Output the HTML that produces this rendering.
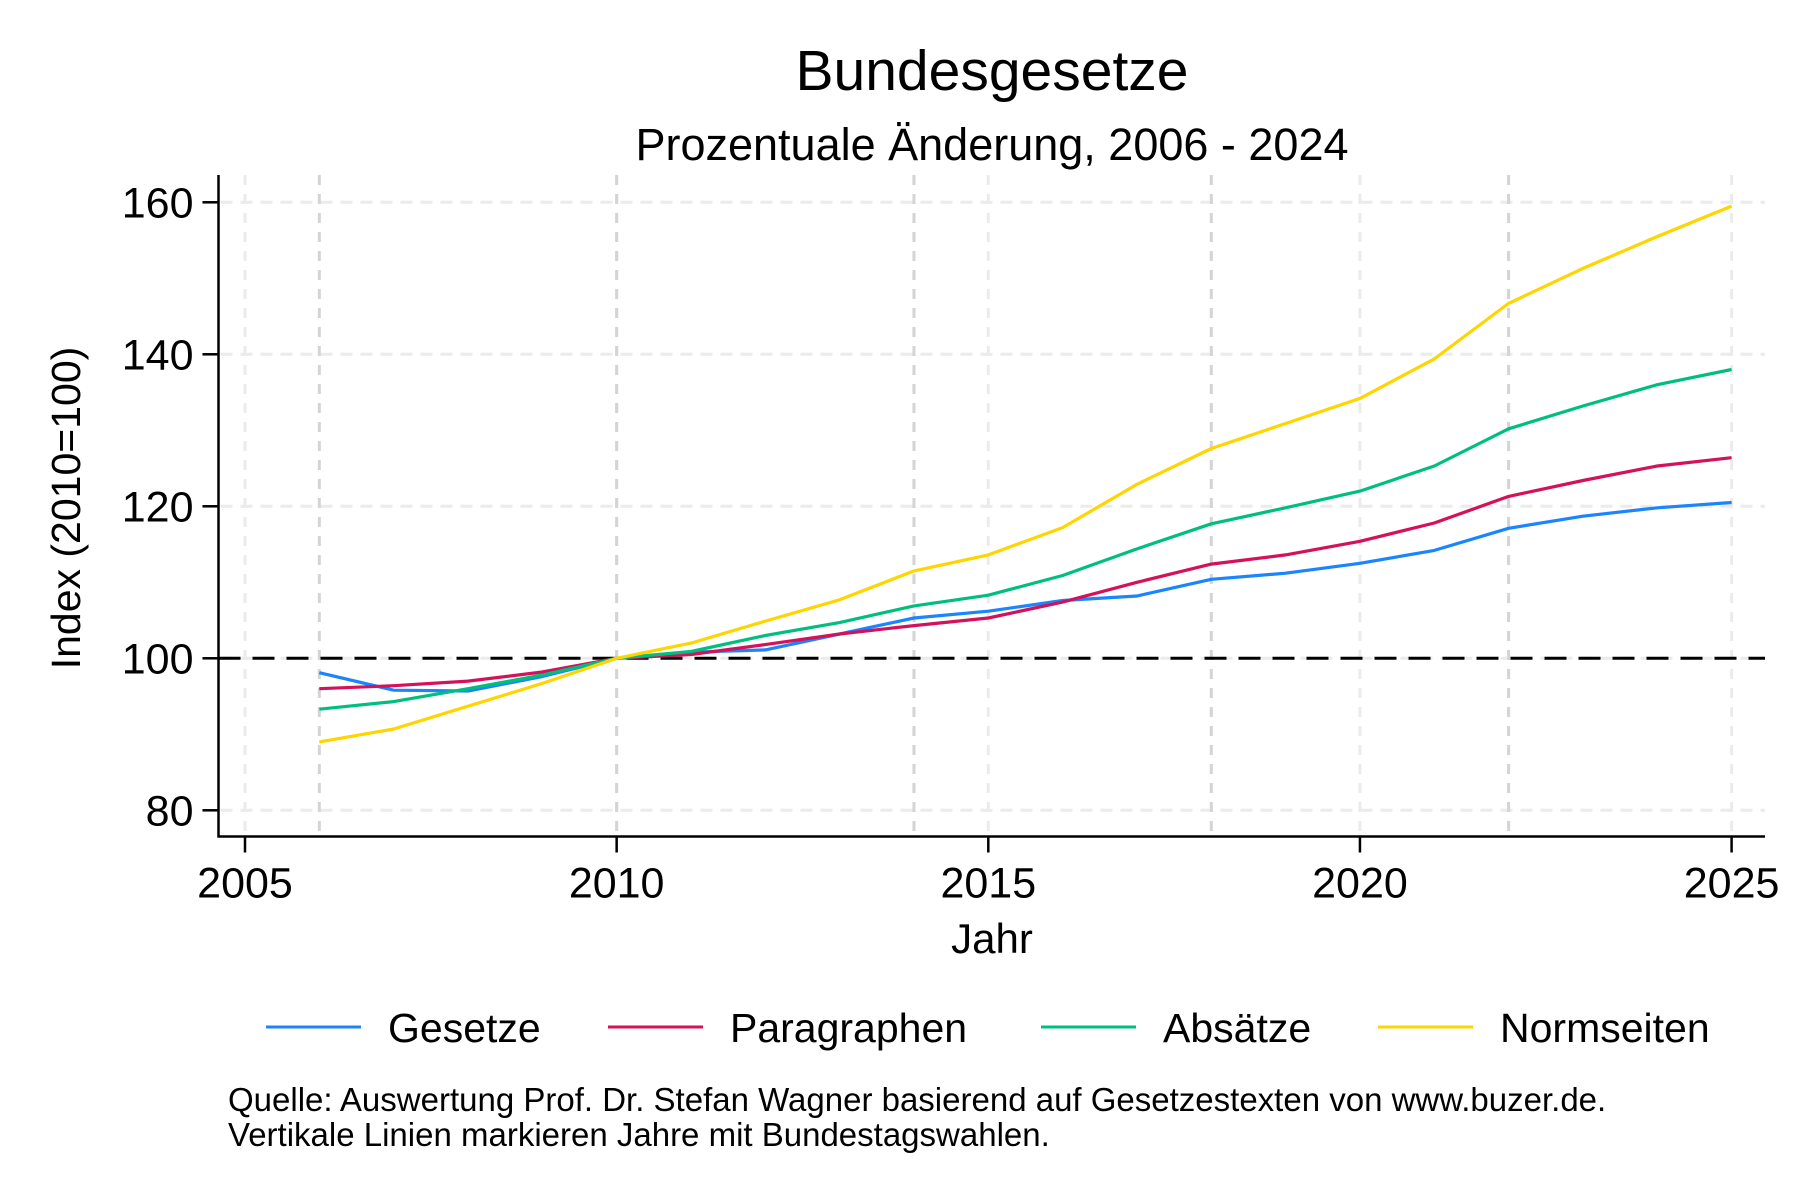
<!DOCTYPE html>
<html><head><meta charset="utf-8"><style>
html,body{margin:0;padding:0;background:#fff;}
svg{display:block;font-family:"Liberation Sans",Arial,sans-serif;}
</style></head><body>
<svg id="chart" width="1800" height="1200" viewBox="0 0 1800 1200" xmlns="http://www.w3.org/2000/svg">
<rect width="1800" height="1200" fill="#fff"/>
<text x="992" y="90" font-size="57" text-anchor="middle">Bundesgesetze</text>
<text x="992" y="160" font-size="45" text-anchor="middle">Prozentuale Änderung, 2006 - 2024</text>
<g id="grid"></g>
<g id="axes"></g>
<g id="series"></g>
<text x="992" y="953" font-size="42" text-anchor="middle">Jahr</text>
<text transform="translate(80,508) rotate(-90)" font-size="41" text-anchor="middle">Index (2010=100)</text>
<g id="legend"></g>
<text x="228" y="1111" font-size="33">Quelle: Auswertung Prof. Dr. Stefan Wagner basierend auf Gesetzestexten von www.buzer.de.</text>
<text x="228" y="1146" font-size="33">Vertikale Linien markieren Jahre mit Bundestagswahlen.</text>
</svg>
<script>
const years = [2006,2007,2008,2009,2010,2011,2012,2013,2014,2015,2016,2017,2018,2019,2020,2021,2022,2023,2024,2025];
const gesetze = [98.1,95.8,95.7,97.6,100,100.8,101.1,103.2,105.3,106.2,107.6,108.2,110.4,111.2,112.5,114.2,117.1,118.7,119.8,120.5];
const paragraphen = [96.0,96.4,97.0,98.2,100,100.5,101.8,103.2,104.3,105.3,107.4,110.0,112.4,113.6,115.4,117.8,121.3,123.4,125.3,126.4];
const absaetze = [93.3,94.3,96.0,97.8,100,100.9,103.0,104.7,106.9,108.3,110.9,114.4,117.7,119.8,122.0,125.3,130.2,133.2,136.0,138.0];
const normseiten = [89.0,90.7,93.7,96.7,100,102.0,104.9,107.7,111.5,113.6,117.2,122.9,127.6,130.9,134.2,139.4,146.7,151.3,155.5,159.5];
const xTicks = [2005,2010,2015,2020,2025];
const yTicks = [80,100,120,140,160];
const electionYears = [2006,2010,2014,2018,2022];
const seriesNames = ["Gesetze","Paragraphen","Absätze","Normseiten"];
const seriesColors = ["#1a85ff","#d41159","#00bf7d","#ffd500"];

const NS = "http://www.w3.org/2000/svg";
const X0 = 245, PX_PER_YEAR = 74.33;
const Y100 = 658.3, PX_PER_UNIT = 7.6;
function xs(y){ return X0 + (y - 2005) * PX_PER_YEAR; }
function ys(v){ return Y100 - (v - 100) * PX_PER_UNIT; }
const axL = 218.5, axR = 1765, axT = 175, axB = 836.5;
function mk(tag, attrs, parent){ const e = document.createElementNS(NS, tag); for (const k in attrs) e.setAttribute(k, attrs[k]); parent.appendChild(e); return e; }

const grid = document.getElementById('grid');
yTicks.forEach(v => {
  const l = mk('line', {x1: axL+2, x2: axR, y1: ys(v), y2: ys(v), stroke: '#ebebeb', 'stroke-width': 3, 'stroke-dasharray': '12 8'}, grid);
  
  
});
xTicks.forEach(t => {
  const l = mk('line', {x1: xs(t), x2: xs(t), y1: axT, y2: axB, stroke: '#ebebeb', 'stroke-width': 3, 'stroke-dasharray': '10 9'}, grid);
  
  
});
electionYears.forEach(t => {
  const l = mk('line', {x1: xs(t), x2: xs(t), y1: axT, y2: axB, stroke: '#d4d4d4', 'stroke-width': 3, 'stroke-dasharray': '10 9'}, grid);
  
  
});
const ref = mk('line', {x1: axL, x2: axR, y1: ys(100), y2: ys(100), stroke: '#000', 'stroke-width': 3, 'stroke-dasharray': '22 12'}, grid);



const axes = document.getElementById('axes');
const ya = mk('line', {x1: axL, x2: axL, y1: axT, y2: axB+1, stroke: '#000', 'stroke-width': 2.5}, axes);


const xa = mk('line', {x1: axL-1, x2: axR, y1: axB, y2: axB, stroke: '#000', 'stroke-width': 2.5}, axes);


yTicks.forEach(v => {
  const t = mk('line', {x1: axL-16, x2: axL, y1: ys(v), y2: ys(v), stroke: '#000', 'stroke-width': 2.5}, axes);
  
  
  const tx = mk('text', {x: axL-25, y: ys(v)+15, 'font-size': 43, 'text-anchor': 'end'}, axes);
  tx.textContent = v;
  
  
});
xTicks.forEach(v => {
  const t = mk('line', {x1: xs(v), x2: xs(v), y1: axB, y2: axB+16, stroke: '#000', 'stroke-width': 2.5}, axes);
  
  
  const tx = mk('text', {x: xs(v), y: axB+61, 'font-size': 43, 'text-anchor': 'middle'}, axes);
  tx.textContent = v;
  
  
});

const series = document.getElementById('series');
const allData = [gesetze, paragraphen, absaetze, normseiten];
allData.forEach((d, i) => {
  const pts = d.map((v, j) => xs(years[j]).toFixed(1) + ',' + ys(v).toFixed(1)).join(' ');
  const p = mk('polyline', {points: pts, fill: 'none', stroke: seriesColors[i], 'stroke-width': 3.2, 'stroke-linejoin': 'round'}, series);
  
  
});

const legend = document.getElementById('legend');
const legX = [266, 608, 1041, 1378];
seriesNames.forEach((n, i) => {
  const g = mk('g', {}, legend);
  
  
  mk('line', {x1: legX[i], x2: legX[i]+95, y1: 1027, y2: 1027, stroke: seriesColors[i], 'stroke-width': 3}, g);
  const t = mk('text', {x: legX[i]+122, y: 1042, 'font-size': 41}, g);
  t.textContent = n;
});
</script>
</body></html>
